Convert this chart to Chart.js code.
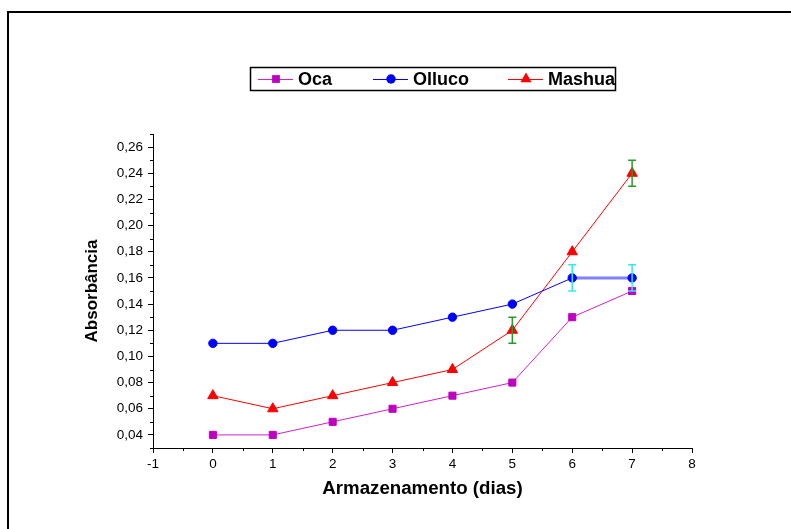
<!DOCTYPE html>
<html>
<head>
<meta charset="utf-8">
<title>Absorbância x Armazenamento</title>
<script src="https://cdn.jsdelivr.net/npm/chart.js@4.4.1/dist/chart.umd.min.js"></script>
<style>
  html, body { margin: 0; padding: 0; background: #fff; overflow: hidden; }
  #wrap { position: relative; width: 791px; height: 529px; }
  #grafico { position: absolute; left: 0; top: 0; }
  #moldura {
    position: absolute; left: 7px; top: 11px;
    width: 800px; height: 600px;
    border: 2px solid #000; pointer-events: none;
  }
</style>
</head>
<body>
<div id="wrap">
  <canvas id="grafico" width="791" height="529"></canvas>
  <div id="moldura"></div>
</div>
<script>
// dados: absorbância ao longo do armazenamento
const dias = [0, 1, 2, 3, 4, 5, 6, 7];
const oca = [0.04, 0.04, 0.05, 0.06, 0.07, 0.08, 0.13, 0.15];
const olluco = [0.11, 0.11, 0.12, 0.12, 0.13, 0.14, 0.16, 0.16];
const mashua = [0.07, 0.06, 0.07, 0.08, 0.09, 0.12, 0.18, 0.24];

// desvios (só onde aparecem barras)
const erroOlluco = [null, null, null, null, null, null, 0.01, 0.01];
const erroMashua = [null, null, null, null, null, 0.01, null, 0.01];

const ticksX = [-1, 0, 1, 2, 3, 4, 5, 6, 7, 8];
const ticksY = [0.04, 0.06, 0.08, 0.10, 0.12, 0.14, 0.16, 0.18, 0.20, 0.22, 0.24, 0.26];
const minorX = [-0.5, 0.5, 1.5, 2.5, 3.5, 4.5, 5.5, 6.5, 7.5];
const minorY = [0.03, 0.05, 0.07, 0.09, 0.11, 0.13, 0.15, 0.17, 0.19, 0.21, 0.23, 0.25, 0.27];

const FONTE = "'Liberation Sans', Arial, Helvetica, sans-serif";

function pontos(valores) {
  return dias.map((d, i) => ({ x: d, y: valores[i] }));
}

// barras de erro desenhadas com as escalas do grafico
const barrasErro = {
  id: "barrasErro",
  afterDatasetsDraw(chart) {
    const { ctx, scales: { x, y } } = chart;
    chart.data.datasets.forEach(ds => {
      if (!ds.erros) return;
      ctx.save();
      ctx.strokeStyle = ds.corErro;
      ctx.lineWidth = 1.5;
      ds.erros.forEach((e, i) => {
        if (e == null) return;
        const px = x.getPixelForValue(dias[i]);
        const yA = y.getPixelForValue(ds.data[i].y + e);
        const yB = y.getPixelForValue(ds.data[i].y - e);
        ctx.beginPath();
        ctx.moveTo(px, yA); ctx.lineTo(px, yB);
        ctx.moveTo(px - 4, yA); ctx.lineTo(px + 4, yA);
        ctx.moveTo(px - 4, yB); ctx.lineTo(px + 4, yB);
        ctx.stroke();
      });
      ctx.restore();
    });
  }
};

// tracinhos menores nos eixos
const ticksMenores = {
  id: "ticksMenores",
  afterDraw(chart) {
    const { ctx, scales: { x, y } } = chart;
    ctx.save();
    ctx.strokeStyle = "#000";
    ctx.lineWidth = 1;
    ctx.beginPath();
    minorX.forEach(v => {
      const px = Math.round(x.getPixelForValue(v)) + 0.5;
      ctx.moveTo(px, x.top); ctx.lineTo(px, x.top + 3);
    });
    minorY.forEach(v => {
      const py = Math.round(y.getPixelForValue(v)) + 0.5;
      ctx.moveTo(y.right, py); ctx.lineTo(y.right - 3, py);
    });
    ctx.stroke();
    ctx.restore();
  }
};

// legenda em caixa: linha + marcador + nome
const legendaCaixa = {
  id: "legendaCaixa",
  afterDraw(chart) {
    const ctx = chart.ctx;
    const posicoes = [258, 373, 508];
    ctx.save();
    ctx.strokeStyle = "#000";
    ctx.lineWidth = 1.5;
    ctx.strokeRect(250.5, 67.5, 365, 23);
    ctx.font = "bold 18px " + FONTE;
    ctx.textBaseline = "middle";
    ctx.textAlign = "left";
    chart.data.datasets.forEach((ds, i) => {
      const x0 = posicoes[i];
      const yc = 79;
      ctx.strokeStyle = ds.borderColor;
      ctx.lineWidth = 1;
      ctx.beginPath();
      ctx.moveTo(x0, yc + 0.5); ctx.lineTo(x0 + 35, yc + 0.5);
      ctx.stroke();
      ctx.fillStyle = ds.pointBackgroundColor;
      ctx.strokeStyle = ds.pointBackgroundColor;
      Chart.helpers.drawPoint(ctx, {
        pointStyle: ds.pointStyle, radius: ds.pointRadius + 0.5, rotation: 0, borderWidth: 0
      }, x0 + 18, yc);
      ctx.fillStyle = "#000";
      ctx.fillText(ds.label, x0 + 40, yc + 1);
    });
    ctx.restore();
  }
};

new Chart(document.getElementById("grafico"), {
  type: "line",
  data: {
    datasets: [
      {
        label: "Oca",
        data: pontos(oca),
        borderColor: "#cc22cc",
        pointBackgroundColor: "#c000c0",
        pointBorderColor: "#c000c0",
        pointStyle: "rect",
        pointRadius: 5,
        borderWidth: 1
      },
      {
        label: "Olluco",
        data: pontos(olluco),
        borderColor: "#0000ff",
        pointBackgroundColor: "#0000ff",
        pointBorderColor: "#0000ff",
        pointStyle: "circle",
        pointRadius: 4.2,
        borderWidth: 1,
        erros: erroOlluco,
        corErro: "#33e8f0",
        segment: {
          borderColor: c => c.p0DataIndex === 6 ? "#8080ff" : undefined,
          borderWidth: c => c.p0DataIndex === 6 ? 3 : undefined
        }
      },
      {
        label: "Mashua",
        data: pontos(mashua),
        borderColor: "#ff0000",
        pointBackgroundColor: "#ff0000",
        pointBorderColor: "#ff0000",
        pointStyle: "triangle",
        pointRadius: 6,
        borderWidth: 1,
        erros: erroMashua,
        corErro: "#2a9a2a"
      }
    ]
  },
  options: {
    responsive: false,
    animation: false,
    layout: { padding: { left: 0, top: 134, right: 99, bottom: 0 } },
    elements: { line: { tension: 0 }, point: { borderWidth: 0 } },
    plugins: {
      legend: { display: false },
      tooltip: { enabled: false }
    },
    scales: {
      x: {
        type: "linear",
        min: -1,
        max: 8,
        afterBuildTicks: s => { s.ticks = ticksX.map(v => ({ value: v })); },
        afterFit: s => { s.height = 81; },
        border: { color: "#000", width: 1 },
        grid: { drawOnChartArea: false, tickLength: 5, tickColor: "#000" },
        ticks: {
          color: "#000",
          padding: 3,
          maxRotation: 0,
          font: { family: FONTE, size: 13.5 },
          callback: v => String(v)
        },
        title: {
          display: true,
          text: "Armazenamento (dias)",
          color: "#000",
          font: { family: FONTE, size: 18.7, weight: "bold" },
          padding: { top: 0, bottom: 28.5 }
        }
      },
      y: {
        min: 0.03,
        max: 0.27,
        afterBuildTicks: s => { s.ticks = ticksY.map(v => ({ value: v })); },
        afterFit: s => { s.width = 153; },
        border: { color: "#000", width: 1 },
        grid: { drawOnChartArea: false, tickLength: 5, tickColor: "#000" },
        ticks: {
          color: "#000",
          padding: 5,
          font: { family: FONTE, size: 13.5 },
          callback: v => v.toFixed(2).replace(".", ",")
        },
        title: {
          display: true,
          text: "Absorbância",
          color: "#000",
          font: { family: FONTE, size: 17, weight: "bold" },
          padding: { top: 82, bottom: 0 }
        }
      }
    }
  },
  plugins: [barrasErro, ticksMenores, legendaCaixa]
});
</script>
</body>
</html>
